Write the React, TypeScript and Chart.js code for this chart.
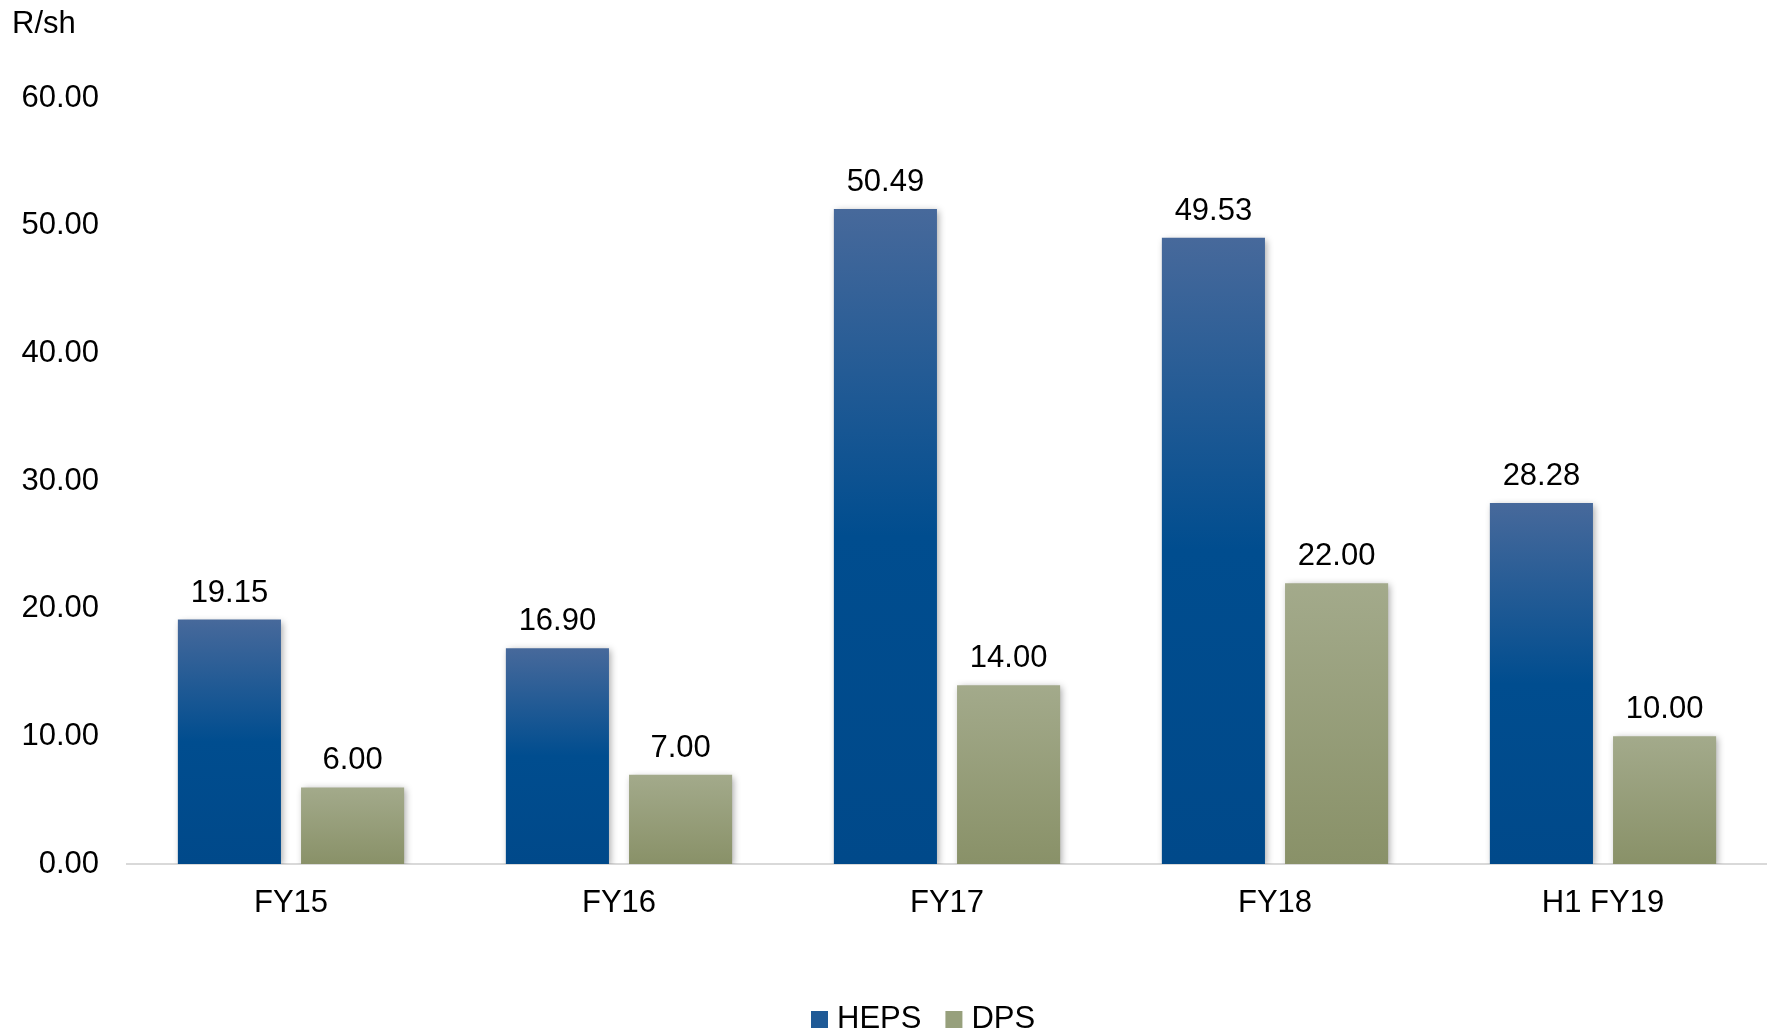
import React, { useEffect, useRef } from "react";
import { Chart, registerables } from "chart.js";

Chart.register(...registerables);

const categories = ["FY15", "FY16", "FY17", "FY18", "H1 FY19"];
const hepsValues = [19.15, 16.9, 51.3, 49.06, 28.28];
const hepsLabels = ["19.15", "16.90", "50.49", "49.53", "28.28"];
const dpsValues = [6.0, 7.0, 14.0, 22.0, 10.0];
const dpsLabels = ["6.00", "7.00", "14.00", "22.00", "10.00"];
const yTicks = [0, 10, 20, 30, 40, 50, 60];
const yAxisTitle = "R/sh";

const FONT = "'Liberation Sans', Arial, sans-serif";
const FS = 31;

function gradientFill(stops: [number, string][], fallback: string) {
  return (ctx: any) => {
    const chart = ctx.chart;
    if (!chart.chartArea || ctx.type !== "data") return fallback;
    const y = chart.scales.y;
    const top = y.getPixelForValue(ctx.raw);
    const base = y.getPixelForValue(0);
    if (!isFinite(top) || !isFinite(base) || top === base) return fallback;
    const g = chart.ctx.createLinearGradient(0, top, 0, base);
    stops.forEach(([o, c]) => g.addColorStop(o, c));
    return g;
  };
}

const shadowPlugin = {
  id: "barShadow",
  beforeDatasetsDraw(chart: any) {
    const c = chart.ctx;
    c.save();
    c.shadowColor = "rgba(0,0,0,0.35)";
    c.shadowBlur = 7;
    c.shadowOffsetX = 2;
    c.shadowOffsetY = 2;
  },
  afterDatasetsDraw(chart: any) {
    chart.ctx.restore();
  },
};

const labelsPlugin = {
  id: "valueLabels",
  afterDatasetsDraw(chart: any) {
    const c = chart.ctx;
    c.save();
    c.font = `${FS}px ${FONT}`;
    c.fillStyle = "#000000";
    c.textAlign = "center";
    c.textBaseline = "alphabetic";
    chart.data.datasets.forEach((ds: any, i: number) => {
      const meta = chart.getDatasetMeta(i);
      meta.data.forEach((el: any, j: number) => {
        c.fillText(ds.valueLabels[j], el.x, el.y - 18);
      });
    });
    c.restore();
  },
};

const extrasPlugin = {
  id: "extras",
  afterDraw(chart: any) {
    const c = chart.ctx;
    c.save();
    c.font = `${FS}px ${FONT}`;
    c.fillStyle = "#000000";
    c.textBaseline = "alphabetic";
    c.textAlign = "left";
    c.fillText(yAxisTitle, 12, 33);
    // legend
    let x = 811;
    const box = 17;
    chart.data.datasets.forEach((ds: any) => {
      c.fillStyle = ds.legendColor;
      c.fillRect(x, 1011, box, box);
      c.fillStyle = "#000000";
      c.fillText(ds.label, x + box + 9, 1028);
      x += box + 9 + c.measureText(ds.label).width + 24;
    });
    c.restore();
  },
};

export default function App() {
  const ref = useRef<HTMLCanvasElement | null>(null);

  useEffect(() => {
    if (!ref.current) return;
    const chart = new Chart(ref.current, {
      type: "bar",
      data: {
        labels: categories,
        datasets: [
          {
            label: "HEPS",
            data: hepsValues,
            valueLabels: hepsLabels,
            legendColor: "#1f5a96",
            backgroundColor: gradientFill(
              [
                [0, "#47699b"],
                [0.5, "#004d8f"],
                [1, "#00498a"],
              ],
              "#004b8c"
            ),
            borderWidth: 0,
          } as any,
          {
            label: "DPS",
            data: dpsValues,
            valueLabels: dpsLabels,
            legendColor: "#97a07c",
            backgroundColor: gradientFill(
              [
                [0, "#a3aa8b"],
                [1, "#899168"],
              ],
              "#97a07c"
            ),
            borderWidth: 0,
          } as any,
        ],
      },
      options: {
        animation: false,
        responsive: false,
        maintainAspectRatio: false,
        layout: { padding: { top: 98, right: 0, bottom: 0, left: 0 } },
        datasets: {
          bar: { categoryPercentage: 0.751, barPercentage: 0.837 },
        },
        plugins: {
          legend: { display: false },
          tooltip: { enabled: false },
          title: { display: false },
        },
        scales: {
          x: {
            grid: { display: false, drawTicks: false },
            border: { display: true, color: "#d9d9d9", width: 2 },
            ticks: {
              color: "#000000",
              font: { family: FONT, size: FS },
              padding: 21,
              maxRotation: 0,
            },
            afterFit: (s: any) => {
              s.height = 169;
            },
          },
          y: {
            min: 0,
            max: 60,
            grid: { display: false, drawTicks: false },
            border: { display: false },
            ticks: {
              color: "#000000",
              font: { family: FONT, size: FS },
              padding: 28,
              callback: (v: any) => Number(v).toFixed(2),
            },
            afterBuildTicks: (s: any) => {
              s.ticks = yTicks.map((v) => ({ value: v }));
            },
            afterFit: (s: any) => {
              s.width = 127;
            },
          },
        },
      },
      plugins: [shadowPlugin, labelsPlugin, extrasPlugin],
    } as any);
    return () => chart.destroy();
  }, []);

  return (
    <div style={{ position: "absolute", left: 0, top: 0, width: 1767, height: 1033, background: "#ffffff" }}>
      <canvas ref={ref} width={1767} height={1033} style={{ width: 1767, height: 1033, display: "block" }} />
    </div>
  );
}
